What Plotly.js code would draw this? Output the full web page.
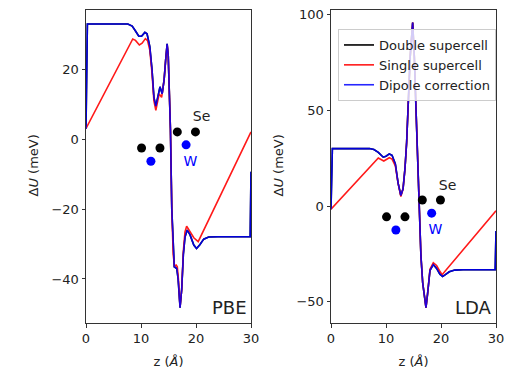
<!DOCTYPE html>
<html>
<head>
<meta charset="utf-8">
<script src="https://cdn.plot.ly/plotly-3.0.1.min.js"></script>
<style>html,body{margin:0;padding:0;background:#fff;}#chart{width:511px;height:369px;}</style>
</head>
<body>
<div id="chart"></div>
<script>
// ---------- PBE panel ----------
const pbeDipoleX = [0, 0.25, 7.6, 8.4, 9.0, 9.6, 10.1, 10.7, 11.1, 11.6, 12.0, 12.35, 12.7, 13.0, 13.45, 13.85, 14.2, 14.5, 14.75, 14.95, 15.15, 15.35, 15.6, 15.85, 16.05, 16.5, 16.75, 17.1, 17.4, 17.7, 18.0, 18.4, 18.9, 19.6, 20.1, 20.7, 21.4, 22.3, 24, 29.85, 30];
const pbeDipoleY = [3, 33, 33, 32.4, 31, 29.5, 29.5, 30.6, 30.2, 26.5, 20, 12, 9.5, 11.5, 15, 13, 17, 23, 27.3, 24, 14, 3, -20, -33, -36.5, -37, -40, -48.2, -43, -33, -28, -26, -27.3, -30.3, -31.3, -30.2, -28.6, -28.0, -27.9, -27.9, -9.3];
const pbeSingleX = [0, 8.5, 9.0, 9.7, 10.2, 10.8, 11.2, 11.6, 12.0, 12.35, 12.7, 13.0, 13.3, 13.75, 14.2, 14.5, 14.75, 14.95, 15.15, 15.35, 15.6, 15.85, 16.1, 16.4, 16.6, 16.8, 17.1, 17.4, 17.7, 18.0, 18.3, 18.9, 19.6, 20.4, 30];
const pbeSingleY = [3.1, 28.7, 28.3, 27, 27.5, 28.8, 28.2, 25.5, 19, 11, 8.3, 10.5, 13, 12, 17, 23, 27, 24, 14, 3, -20, -33, -36.3, -36, -36.5, -40, -48, -43, -32, -26.5, -24.9, -26.3, -28.2, -29.3, 2.1];
const pbeSeX = [10.1, 13.45, 16.6, 19.9];
const pbeSeY = [-2.5, -2.5, 2.1, 2.1];
const pbeWX = [11.8, 18.2];
const pbeWY = [-6.3, -1.6];
const pbeSeLabel = {x: 21, y: 6.2, text: 'Se'};
const pbeWLabel = {x: 19, y: -6.6, text: 'W'};

// ---------- LDA panel ----------
const ldaDipoleX = [0, 0.25, 7.0, 7.8, 8.6, 9.5, 10.0, 10.6, 11.1, 11.7, 12.2, 12.7, 13.1, 13.45, 13.75, 14.05, 14.4, 14.85, 15.15, 15.45, 15.75, 16.06, 16.35, 16.67, 17.0, 17.27, 17.55, 17.8, 18.0, 18.6, 19.2, 19.8, 20.3, 20.8, 21.5, 22.5, 24, 29.85, 30];
const ldaDipoleY = [-1.6, 30, 30, 29.5, 28, 25.5, 26, 27.2, 26.5, 22, 12, 5.5, 9, 19.5, 33, 51, 78, 95.8, 78, 51, 22, -5, -26, -40, -49, -53, -46, -37, -33.5, -30.5, -32.5, -35.5, -36.7, -35.8, -34.3, -33.4, -33.2, -33.2, -13];
const ldaSingleX = [0, 8.6, 9.6, 10.6, 11.1, 11.7, 12.2, 12.7, 13.1, 13.45, 13.75, 14.05, 14.4, 14.85, 15.15, 15.45, 15.75, 16.06, 16.35, 16.67, 17.0, 17.27, 17.55, 17.8, 18.0, 18.6, 19.2, 19.7, 20.2, 30];
const ldaSingleY = [-1.6, 25.1, 23.5, 25.2, 24.5, 21, 12, 5, 9, 19.5, 33, 51, 78, 95.8, 78, 51, 22, -5, -26, -40, -49, -53, -46, -37, -33, -29.6, -31, -33.6, -35.8, -2.5];
const ldaSeX = [10.1, 13.45, 16.6, 19.9];
const ldaSeY = [-5.6, -5.6, 3.2, 3.2];
const ldaWX = [11.8, 18.3];
const ldaWY = [-12.5, -3.7];
const ldaSeLabel = {x: 21.2, y: 10, text: 'Se'};
const ldaWLabel = {x: 19, y: -12.7, text: 'W'};

const seriesNames = ['Double supercell', 'Single supercell', 'Dipole correction'];
const panelNames = ['PBE', 'LDA'];
const yTitleText = 'Δ<i>U</i> (meV)';
const xTitleText = 'z (<i>Å</i>)';

const FONT = 'DejaVu Sans, sans-serif';
const LW = 1.6;

function lineTraces(xa, ya, dX, dY, sX, sY, legend) {
  return [
    {x: dX, y: dY, xaxis: xa, yaxis: ya, mode: 'lines', name: seriesNames[0], showlegend: legend,
     line: {color: '#000000', width: LW}},
    {x: sX, y: sY, xaxis: xa, yaxis: ya, mode: 'lines', name: seriesNames[1], showlegend: legend,
     line: {color: '#ff0000', width: LW}, opacity: 0.9},
    {x: dX, y: dY, xaxis: xa, yaxis: ya, mode: 'lines', name: seriesNames[2], showlegend: legend,
     line: {color: '#0000ff', width: LW}, opacity: 0.85}
  ];
}
function atomTraces(xa, ya, seX, seY, wX, wY, seL, wL) {
  return [
    {x: seX, y: seY, xaxis: xa, yaxis: ya, mode: 'markers', showlegend: false,
     marker: {color: '#000000', size: 9}},
    {x: wX, y: wY, xaxis: xa, yaxis: ya, mode: 'markers', showlegend: false,
     marker: {color: '#0000ff', size: 9}},
    {x: [seL.x], y: [seL.y], text: [seL.text], xaxis: xa, yaxis: ya, mode: 'text', showlegend: false,
     textfont: {family: FONT, size: 14, color: '#222222'}},
    {x: [wL.x], y: [wL.y], text: [wL.text], xaxis: xa, yaxis: ya, mode: 'text', showlegend: false,
     textfont: {family: FONT, size: 14, color: '#0000ff'}}
  ];
}

const data = [].concat(
  lineTraces('x', 'y', pbeDipoleX, pbeDipoleY, pbeSingleX, pbeSingleY, false),
  atomTraces('x', 'y', pbeSeX, pbeSeY, pbeWX, pbeWY, pbeSeLabel, pbeWLabel),
  lineTraces('x2', 'y2', ldaDipoleX, ldaDipoleY, ldaSingleX, ldaSingleY, true),
  atomTraces('x2', 'y2', ldaSeX, ldaSeY, ldaWX, ldaWY, ldaSeLabel, ldaWLabel)
);

const axCommon = {
  showline: true, mirror: true, linecolor: '#333333', linewidth: 1,
  ticks: 'outside', ticklen: 3.5, tickwidth: 1, tickcolor: '#333333',
  showgrid: false, zeroline: false, automargin: false,
  tickfont: {family: FONT, size: 13, color: '#222222'}
};
const xTitle = {text: xTitleText, font: {family: FONT, size: 13, color: '#222222'}, standoff: 11};
const titleFont = {family: FONT, size: 13, color: '#222222'};

const layout = {
  width: 511, height: 369,
  margin: {l: 0, r: 0, t: 0, b: 0, pad: 0},
  paper_bgcolor: '#ffffff', plot_bgcolor: '#ffffff',
  showlegend: true,
  xaxis: Object.assign({}, axCommon, {domain: [86/511, 251/511], range: [0, 30], tickvals: [0, 10, 20, 30], anchor: 'y', title: xTitle}),
  yaxis: Object.assign({}, axCommon, {domain: [1 - 323/369, 1 - 10/369], range: [-52.6, 37.0], tickvals: [-40, -20, 0, 20], anchor: 'x'}),
  xaxis2: Object.assign({}, axCommon, {domain: [331/511, 496/511], range: [0, 30], tickvals: [0, 10, 20, 30], anchor: 'y2', title: xTitle}),
  yaxis2: Object.assign({}, axCommon, {domain: [1 - 323/369, 1 - 10/369], range: [-61, 102.3], tickvals: [-50, 0, 50, 100], anchor: 'x2'}),
  legend: {
    x: 338/511, y: 1 - 29/369, xanchor: 'left', yanchor: 'top',
    bgcolor: 'rgba(255,255,255,0.8)', bordercolor: '#cccccc', borderwidth: 1,
    font: {family: FONT, size: 13, color: '#222222'},
    tracegroupgap: 0
  },
  annotations: [
    {xref: 'x domain', yref: 'y domain', x: 0.99, y: 0.01, xanchor: 'right', yanchor: 'bottom',
     text: panelNames[0], showarrow: false, font: {family: FONT, size: 18, color: '#222222'}},
    {xref: 'x2 domain', yref: 'y2 domain', x: 0.99, y: 0.01, xanchor: 'right', yanchor: 'bottom',
     text: panelNames[1], showarrow: false, font: {family: FONT, size: 18, color: '#222222'}},
    {xref: 'paper', yref: 'paper', x: 24/511, y: 1 - 166/369, xanchor: 'left', yanchor: 'middle',
     textangle: -90, text: yTitleText, showarrow: false, font: titleFont, borderpad: 0},
    {xref: 'paper', yref: 'paper', x: 269/511, y: 1 - 166/369, xanchor: 'left', yanchor: 'middle',
     textangle: -90, text: yTitleText, showarrow: false, font: titleFont, borderpad: 0}
  ]
};

Plotly.newPlot('chart', data, layout, {displayModeBar: false, staticPlot: true});
</script>
</body>
</html>
